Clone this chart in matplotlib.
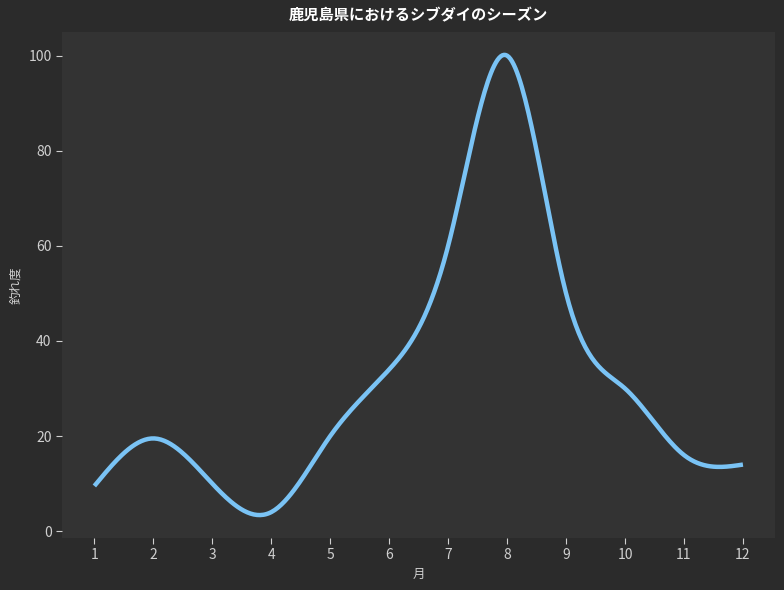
import numpy as np
import matplotlib
matplotlib.use("Agg")
import matplotlib.pyplot as plt

plt.rcParams['font.family'] = ['Noto Sans CJK JP', 'DejaVu Sans']

# 月ごとの釣れ度
months = [1, 2, 3, 4, 5, 6, 7, 8, 9, 10, 11, 12]
catch = [9.5, 19.5, 10, 4, 20, 34, 60, 100, 50, 30, 16, 14]
tick_labels = [str(m) for m in months]


def natural_spline(x, y, n=400):
    # 自然3次スプラインで滑らかな線にする
    x = np.asarray(x, float)
    y = np.asarray(y, float)
    k = len(x)
    h = np.diff(x)
    A = np.zeros((k, k))
    b = np.zeros(k)
    A[0, 0] = A[-1, -1] = 1
    for i in range(1, k - 1):
        A[i, i - 1] = h[i - 1]
        A[i, i] = 2 * (h[i - 1] + h[i])
        A[i, i + 1] = h[i]
        b[i] = 3 * ((y[i + 1] - y[i]) / h[i] - (y[i] - y[i - 1]) / h[i - 1])
    c = np.linalg.solve(A, b)
    xs = np.linspace(x[0], x[-1], n)
    idx = np.clip(np.searchsorted(x, xs) - 1, 0, k - 2)
    dx = xs - x[idx]
    bb = (y[idx + 1] - y[idx]) / h[idx] - h[idx] * (2 * c[idx] + c[idx + 1]) / 3
    dd = (c[idx + 1] - c[idx]) / (3 * h[idx])
    ys = y[idx] + bb * dx + c[idx] * dx ** 2 + dd * dx ** 3
    return xs, ys


xs, ys = natural_spline(months, catch)

fig = plt.figure(figsize=(7.84, 5.90), dpi=100, facecolor='#2b2b2b')
ax = fig.add_axes([0.079, 0.088, 0.91, 0.858])
ax.set_facecolor('#333333')
ax.plot(xs, ys, color='#7ac3f5', linewidth=3.2, solid_capstyle='butt')

ax.set_xticks(months)
ax.set_xticklabels(tick_labels)
ax.set_yticks([0, 20, 40, 60, 80, 100])
ax.tick_params(colors='#d0d0d0', labelsize=10, length=4)
for s in ax.spines.values():
    s.set_visible(False)

ax.set_title('鹿児島県におけるシブダイのシーズン', color='white', fontsize=11,
             fontweight='bold', pad=8)
ax.set_xlabel('月', color='#d0d0d0', fontsize=9)
ax.set_ylabel('釣れ度', color='#d0d0d0', fontsize=9)

fig.savefig('out.png', dpi=100, facecolor=fig.get_facecolor())
